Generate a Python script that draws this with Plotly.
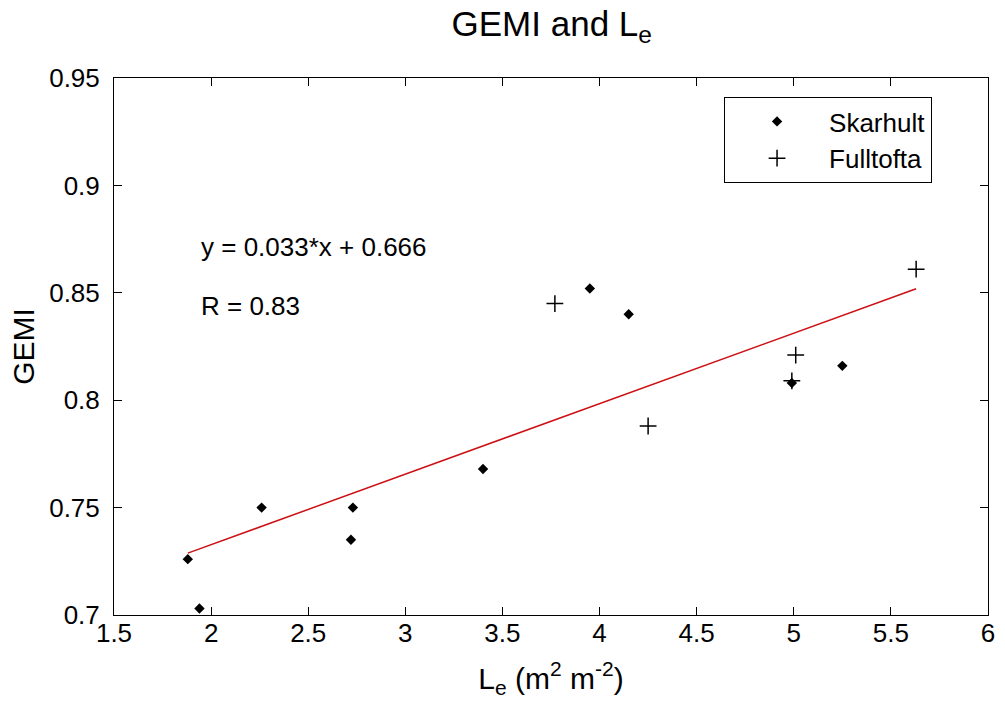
import plotly.graph_objects as go

# Data
skarhult_x = [1.88, 1.94, 2.26, 2.73, 2.72, 3.40, 3.95, 4.15, 4.99, 5.25]
skarhult_y = [0.726, 0.703, 0.750, 0.750, 0.735, 0.768, 0.852, 0.840, 0.808, 0.816]

fulltofta_x = [3.77, 4.25, 5.01, 4.99, 5.63]
fulltofta_y = [0.845, 0.788, 0.821, 0.809, 0.861]

fit_x = [1.88, 5.63]
fit_y = [0.7288, 0.8519]

x_ticks = [1.5, 2, 2.5, 3, 3.5, 4, 4.5, 5, 5.5, 6]
x_ticktext = ["1.5", "2", "2.5", "3", "3.5", "4", "4.5", "5", "5.5", "6"]
y_ticks = [0.7, 0.75, 0.8, 0.85, 0.9, 0.95]
y_ticktext = ["0.7", "0.75", "0.8", "0.85", "0.9", "0.95"]

FONT = "Liberation Sans, Arial, Helvetica, sans-serif"

fig = go.Figure()

fig.add_trace(go.Scatter(
    x=skarhult_x, y=skarhult_y, mode="markers", name="Skarhult",
    marker=dict(symbol="diamond", size=8, color="black"),
))
fig.add_trace(go.Scatter(
    x=fulltofta_x, y=fulltofta_y, mode="markers", name="Fulltofta",
    marker=dict(symbol="cross-thin-open", size=12, color="black",
                line=dict(width=1.5, color="black")),
))
fig.add_trace(go.Scatter(
    x=fit_x, y=fit_y, mode="lines", showlegend=False,
    line=dict(color="#cc1014", width=1.5),
))

fig.add_annotation(x=1.94, y=0.8713, xref="x", yref="y", text="y = 0.033*x + 0.666",
                   showarrow=False, xanchor="left", yanchor="middle",
                   font=dict(family=FONT, size=26, color="black"))
fig.add_annotation(x=1.94, y=0.8439, xref="x", yref="y", text="R = 0.83",
                   showarrow=False, xanchor="left", yanchor="middle",
                   font=dict(family=FONT, size=26, color="black"))

axis_common = dict(
    showline=True, linecolor="black", linewidth=1, mirror="ticks",
    ticks="inside", ticklen=8, tickcolor="black", tickwidth=1,
    showgrid=False, zeroline=False,
    tickfont=dict(family=FONT, size=26, color="black"),
)

fig.update_layout(
    width=1005, height=713,
    margin=dict(l=114, r=10, t=78, b=98),
    paper_bgcolor="white", plot_bgcolor="white",
    font=dict(family=FONT, color="black"),
    title=dict(text="GEMI and L<sub>e</sub>", x=0.549, xanchor="center",
               y=0.967, yanchor="middle",
               font=dict(family=FONT, size=35, color="black")),
    xaxis=dict(range=[1.5, 6], tickvals=x_ticks, ticktext=x_ticktext,
               ticklabelstandoff=-5,
               title=dict(text="L<sub>e</sub> (m<sup>2</sup> m<sup>-2</sup>)",
                          font=dict(family=FONT, size=30, color="black"),
                          standoff=20),
               **axis_common),
    yaxis=dict(range=[0.7, 0.95], tickvals=y_ticks, ticktext=y_ticktext,
               ticklabelstandoff=8,
               title=dict(text="GEMI", font=dict(family=FONT, size=30, color="black"),
                          standoff=5),
               **axis_common),
    legend=dict(x=0.698, y=0.9646, xanchor="left", yanchor="top",
                bgcolor="white", bordercolor="black", borderwidth=1,
                font=dict(family=FONT, size=26, color="black"),
                itemwidth=94, tracegroupgap=0),
    showlegend=True,
)

fig.write_html(
    "out.html",
    config={"displayModeBar": False},
    post_script="document.body.style.margin='0';document.body.style.overflow='hidden';",
)
